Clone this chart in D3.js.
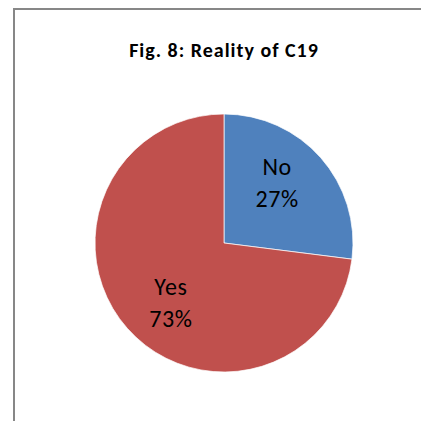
<!DOCTYPE html>
<html>
<head>
<meta charset="utf-8">
<script src="https://cdn.jsdelivr.net/npm/d3@7"></script>
<style>
  html, body { margin: 0; padding: 0; background: #fff; }
  svg { display: block; }
</style>
</head>
<body>
<svg id="chart" width="421" height="421"></svg>
<script>
// Survey answers and their shares (percent)
const categories = ["No", "Yes"];
const values = [27, 73];
const labels = ["27%", "73%"];
const colors = ["#4F81BD", "#C0504D"];

const svg = d3.select("#chart");
const font = "Carlito, Lato, 'Open Sans', sans-serif";

// Chart frame
svg.append("path")
  .attr("d", "M14,430 L14,9 L430,9")
  .attr("fill", "none")
  .attr("stroke", "#878787")
  .attr("stroke-width", 2);

// Title
svg.append("text")
  .attr("x", 224)
  .attr("y", 57)
  .attr("text-anchor", "middle")
  .attr("font-family", font)
  .attr("font-weight", "bold")
  .attr("font-size", 20)
  .attr("letter-spacing", 1)
  .attr("fill", "#000")
  .text("Fig. 8: Reality of C19");

const cx = 224, cy = 243, r = 129;

const pie = d3.pie().sort(null).value(d => d.value);
const data = categories.map((c, i) => ({ cat: c, value: values[i], label: labels[i], color: colors[i] }));
const arcs = pie(data);
const arc = d3.arc().innerRadius(0).outerRadius(r);
// Labels sit a little counter-clockwise of each slice's middle
const labelR = r * 0.62;
const labelShift = -7 * Math.PI / 180;
const labelArc = d3.arc().innerRadius(labelR).outerRadius(labelR);

const g = svg.append("g").attr("transform", `translate(${cx},${cy})`);

g.selectAll("path.slice")
  .data(arcs)
  .join("path")
  .attr("class", "slice")
  .attr("d", arc)
  .attr("fill", d => d.data.color)
  .attr("stroke", "#fff")
  .attr("stroke-width", 0.7);

const lbl = g.selectAll("text.lbl")
  .data(arcs)
  .join("text")
  .attr("class", "lbl")
  .attr("text-anchor", "middle")
  .attr("font-family", font)
  .attr("font-size", 24)
  .attr("letter-spacing", 0.6)
  .attr("fill", "#000")
  .attr("transform", d => {
    const [x, y] = labelArc.centroid({
      startAngle: d.startAngle + labelShift,
      endAngle: d.endAngle + labelShift
    });
    return `translate(${x},${y})`;
  });

lbl.append("tspan").attr("x", 0).attr("dy", -8).text(d => d.data.cat);
lbl.append("tspan").attr("x", 0).attr("dy", 32).text(d => d.data.label);
</script>
</body>
</html>
